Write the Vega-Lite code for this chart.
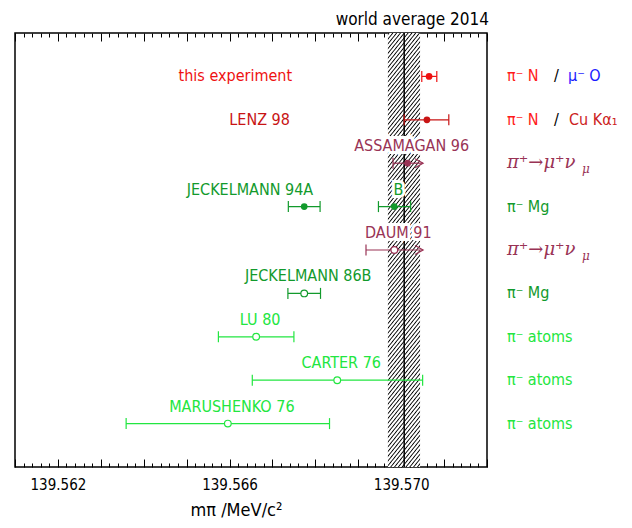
{
  "$schema": "https://vega.github.io/schema/vega-lite/v6.json",
  "width": 472,
  "height": 434,
  "autosize": {"type": "none"},
  "padding": {"left": 15, "top": 33, "right": 145, "bottom": 61},
  "title": {"text": "world average 2014", "frame": "group", "anchor": "end", "dx": 2, "offset": -10, "baseline": "alphabetic", "fontSize": 17, "fontWeight": "normal", "color": "#000"},
  "config": {
    "font": "DejaVu Sans Condensed, DejaVu Sans, sans-serif",
    "view": {"stroke": "#000", "strokeWidth": 1.5},
    "text": {"fontSize": 16}
  },
  "datasets": {
    "results": [
      {"name": "this experiment", "label": "this experiment", "target": "π⁻ N / μ⁻ O", "value": 139.57065, "lo": 139.57048, "hi": 139.57083, "marker": "filled", "kind": "bar"},
      {"name": "LENZ 98", "label": "LENZ 98", "target": "π⁻ N / Cu Kα₁", "value": 139.5706, "lo": 139.57007, "hi": 139.57111, "marker": "filled", "kind": "bar"},
      {"name": "ASSAMAGAN 96", "label": "ASSAMAGAN 96", "target": "π⁺→μ⁺νμ", "value": 139.57015, "lo": 139.56981, "hi": 139.57051, "marker": "filled", "kind": "limit"},
      {"name": "JECKELMANN 94", "label": "JECKELMANN 94A", "target": "π⁻ Mg", "value": 139.56774, "lo": 139.56737, "hi": 139.56811, "marker": "filled", "kind": "bar"},
      {"name": "JECKELMANN 94", "label": "B", "target": "π⁻ Mg", "value": 139.56984, "lo": 139.56947, "hi": 139.57022, "marker": "filled", "kind": "bar"},
      {"name": "DAUM 91", "label": "DAUM 91", "target": "π⁺→μ⁺νμ", "value": 139.56984, "lo": 139.56918, "hi": 139.57051, "marker": "open", "kind": "limit"},
      {"name": "JECKELMANN 86B", "label": "JECKELMANN 86B", "target": "π⁻ Mg", "value": 139.56774, "lo": 139.56736, "hi": 139.56812, "marker": "open", "kind": "bar"},
      {"name": "LU 80", "label": "LU 80", "target": "π⁻ atoms", "value": 139.56662, "lo": 139.56574, "hi": 139.5675, "marker": "open", "kind": "bar"},
      {"name": "CARTER 76", "label": "CARTER 76", "target": "π⁻ atoms", "value": 139.56851, "lo": 139.56653, "hi": 139.5705, "marker": "open", "kind": "bar"},
      {"name": "MARUSHENKO 76", "label": "MARUSHENKO 76", "target": "π⁻ atoms", "value": 139.56596, "lo": 139.56359, "hi": 139.56833, "marker": "open", "kind": "bar"}
    ],
    "average": [
      {"label": "world average 2014", "value": 139.57007, "lo": 139.56969, "hi": 139.57044}
    ]
  },
  "data": {"name": "results"},
  "layer": [
    {
      "data": {"name": "average"},
      "mark": {"type": "rect", "stroke": null, "fill": {"gradient": "linear", "x1": 0, "y1": 0, "x2": 0.0998, "y2": 1.083, "stops": [
        {"offset":0,"color":"#fff"},{"offset":0.003,"color":"#000"},{"offset":0.006,"color":"#fff"},
        {"offset":0.01,"color":"#fff"},{"offset":0.013,"color":"#000"},{"offset":0.016,"color":"#fff"},
        {"offset":0.02,"color":"#fff"},{"offset":0.023,"color":"#000"},{"offset":0.026,"color":"#fff"},
        {"offset":0.03,"color":"#fff"},{"offset":0.033,"color":"#000"},{"offset":0.036,"color":"#fff"},
        {"offset":0.04,"color":"#fff"},{"offset":0.043,"color":"#000"},{"offset":0.046,"color":"#fff"},
        {"offset":0.05,"color":"#fff"},{"offset":0.053,"color":"#000"},{"offset":0.056,"color":"#fff"},
        {"offset":0.06,"color":"#fff"},{"offset":0.063,"color":"#000"},{"offset":0.066,"color":"#fff"},
        {"offset":0.07,"color":"#fff"},{"offset":0.073,"color":"#000"},{"offset":0.076,"color":"#fff"},
        {"offset":0.08,"color":"#fff"},{"offset":0.083,"color":"#000"},{"offset":0.086,"color":"#fff"},
        {"offset":0.09,"color":"#fff"},{"offset":0.093,"color":"#000"},{"offset":0.096,"color":"#fff"},
        {"offset":0.1,"color":"#fff"},{"offset":0.103,"color":"#000"},{"offset":0.106,"color":"#fff"},
        {"offset":0.11,"color":"#fff"},{"offset":0.113,"color":"#000"},{"offset":0.116,"color":"#fff"},
        {"offset":0.12,"color":"#fff"},{"offset":0.123,"color":"#000"},{"offset":0.126,"color":"#fff"},
        {"offset":0.13,"color":"#fff"},{"offset":0.133,"color":"#000"},{"offset":0.136,"color":"#fff"},
        {"offset":0.14,"color":"#fff"},{"offset":0.143,"color":"#000"},{"offset":0.146,"color":"#fff"},
        {"offset":0.15,"color":"#fff"},{"offset":0.153,"color":"#000"},{"offset":0.156,"color":"#fff"},
        {"offset":0.16,"color":"#fff"},{"offset":0.163,"color":"#000"},{"offset":0.166,"color":"#fff"},
        {"offset":0.17,"color":"#fff"},{"offset":0.173,"color":"#000"},{"offset":0.176,"color":"#fff"},
        {"offset":0.18,"color":"#fff"},{"offset":0.183,"color":"#000"},{"offset":0.186,"color":"#fff"},
        {"offset":0.19,"color":"#fff"},{"offset":0.193,"color":"#000"},{"offset":0.196,"color":"#fff"},
        {"offset":0.2,"color":"#fff"},{"offset":0.203,"color":"#000"},{"offset":0.206,"color":"#fff"},
        {"offset":0.21,"color":"#fff"},{"offset":0.213,"color":"#000"},{"offset":0.216,"color":"#fff"},
        {"offset":0.22,"color":"#fff"},{"offset":0.223,"color":"#000"},{"offset":0.226,"color":"#fff"},
        {"offset":0.23,"color":"#fff"},{"offset":0.233,"color":"#000"},{"offset":0.236,"color":"#fff"},
        {"offset":0.24,"color":"#fff"},{"offset":0.243,"color":"#000"},{"offset":0.246,"color":"#fff"},
        {"offset":0.25,"color":"#fff"},{"offset":0.253,"color":"#000"},{"offset":0.256,"color":"#fff"},
        {"offset":0.26,"color":"#fff"},{"offset":0.263,"color":"#000"},{"offset":0.266,"color":"#fff"},
        {"offset":0.27,"color":"#fff"},{"offset":0.273,"color":"#000"},{"offset":0.276,"color":"#fff"},
        {"offset":0.28,"color":"#fff"},{"offset":0.283,"color":"#000"},{"offset":0.286,"color":"#fff"},
        {"offset":0.29,"color":"#fff"},{"offset":0.293,"color":"#000"},{"offset":0.296,"color":"#fff"},
        {"offset":0.3,"color":"#fff"},{"offset":0.303,"color":"#000"},{"offset":0.306,"color":"#fff"},
        {"offset":0.31,"color":"#fff"},{"offset":0.313,"color":"#000"},{"offset":0.316,"color":"#fff"},
        {"offset":0.32,"color":"#fff"},{"offset":0.323,"color":"#000"},{"offset":0.326,"color":"#fff"},
        {"offset":0.33,"color":"#fff"},{"offset":0.333,"color":"#000"},{"offset":0.336,"color":"#fff"},
        {"offset":0.34,"color":"#fff"},{"offset":0.343,"color":"#000"},{"offset":0.346,"color":"#fff"},
        {"offset":0.35,"color":"#fff"},{"offset":0.353,"color":"#000"},{"offset":0.356,"color":"#fff"},
        {"offset":0.36,"color":"#fff"},{"offset":0.363,"color":"#000"},{"offset":0.366,"color":"#fff"},
        {"offset":0.37,"color":"#fff"},{"offset":0.373,"color":"#000"},{"offset":0.376,"color":"#fff"},
        {"offset":0.38,"color":"#fff"},{"offset":0.383,"color":"#000"},{"offset":0.386,"color":"#fff"},
        {"offset":0.39,"color":"#fff"},{"offset":0.393,"color":"#000"},{"offset":0.396,"color":"#fff"},
        {"offset":0.4,"color":"#fff"},{"offset":0.403,"color":"#000"},{"offset":0.406,"color":"#fff"},
        {"offset":0.41,"color":"#fff"},{"offset":0.413,"color":"#000"},{"offset":0.416,"color":"#fff"},
        {"offset":0.42,"color":"#fff"},{"offset":0.423,"color":"#000"},{"offset":0.426,"color":"#fff"},
        {"offset":0.43,"color":"#fff"},{"offset":0.433,"color":"#000"},{"offset":0.436,"color":"#fff"},
        {"offset":0.44,"color":"#fff"},{"offset":0.443,"color":"#000"},{"offset":0.446,"color":"#fff"},
        {"offset":0.45,"color":"#fff"},{"offset":0.453,"color":"#000"},{"offset":0.456,"color":"#fff"},
        {"offset":0.46,"color":"#fff"},{"offset":0.463,"color":"#000"},{"offset":0.466,"color":"#fff"},
        {"offset":0.47,"color":"#fff"},{"offset":0.473,"color":"#000"},{"offset":0.476,"color":"#fff"},
        {"offset":0.48,"color":"#fff"},{"offset":0.483,"color":"#000"},{"offset":0.486,"color":"#fff"},
        {"offset":0.49,"color":"#fff"},{"offset":0.493,"color":"#000"},{"offset":0.496,"color":"#fff"},
        {"offset":0.5,"color":"#fff"},{"offset":0.503,"color":"#000"},{"offset":0.506,"color":"#fff"},
        {"offset":0.51,"color":"#fff"},{"offset":0.513,"color":"#000"},{"offset":0.516,"color":"#fff"},
        {"offset":0.52,"color":"#fff"},{"offset":0.523,"color":"#000"},{"offset":0.526,"color":"#fff"},
        {"offset":0.53,"color":"#fff"},{"offset":0.533,"color":"#000"},{"offset":0.536,"color":"#fff"},
        {"offset":0.54,"color":"#fff"},{"offset":0.543,"color":"#000"},{"offset":0.546,"color":"#fff"},
        {"offset":0.55,"color":"#fff"},{"offset":0.553,"color":"#000"},{"offset":0.556,"color":"#fff"},
        {"offset":0.56,"color":"#fff"},{"offset":0.563,"color":"#000"},{"offset":0.566,"color":"#fff"},
        {"offset":0.57,"color":"#fff"},{"offset":0.573,"color":"#000"},{"offset":0.576,"color":"#fff"},
        {"offset":0.58,"color":"#fff"},{"offset":0.583,"color":"#000"},{"offset":0.586,"color":"#fff"},
        {"offset":0.59,"color":"#fff"},{"offset":0.593,"color":"#000"},{"offset":0.596,"color":"#fff"},
        {"offset":0.6,"color":"#fff"},{"offset":0.603,"color":"#000"},{"offset":0.606,"color":"#fff"},
        {"offset":0.61,"color":"#fff"},{"offset":0.613,"color":"#000"},{"offset":0.616,"color":"#fff"},
        {"offset":0.62,"color":"#fff"},{"offset":0.623,"color":"#000"},{"offset":0.626,"color":"#fff"},
        {"offset":0.63,"color":"#fff"},{"offset":0.633,"color":"#000"},{"offset":0.636,"color":"#fff"},
        {"offset":0.64,"color":"#fff"},{"offset":0.643,"color":"#000"},{"offset":0.646,"color":"#fff"},
        {"offset":0.65,"color":"#fff"},{"offset":0.653,"color":"#000"},{"offset":0.656,"color":"#fff"},
        {"offset":0.66,"color":"#fff"},{"offset":0.663,"color":"#000"},{"offset":0.666,"color":"#fff"},
        {"offset":0.67,"color":"#fff"},{"offset":0.673,"color":"#000"},{"offset":0.676,"color":"#fff"},
        {"offset":0.68,"color":"#fff"},{"offset":0.683,"color":"#000"},{"offset":0.686,"color":"#fff"},
        {"offset":0.69,"color":"#fff"},{"offset":0.693,"color":"#000"},{"offset":0.696,"color":"#fff"},
        {"offset":0.7,"color":"#fff"},{"offset":0.703,"color":"#000"},{"offset":0.706,"color":"#fff"},
        {"offset":0.71,"color":"#fff"},{"offset":0.713,"color":"#000"},{"offset":0.716,"color":"#fff"},
        {"offset":0.72,"color":"#fff"},{"offset":0.723,"color":"#000"},{"offset":0.726,"color":"#fff"},
        {"offset":0.73,"color":"#fff"},{"offset":0.733,"color":"#000"},{"offset":0.736,"color":"#fff"},
        {"offset":0.74,"color":"#fff"},{"offset":0.743,"color":"#000"},{"offset":0.746,"color":"#fff"},
        {"offset":0.75,"color":"#fff"},{"offset":0.753,"color":"#000"},{"offset":0.756,"color":"#fff"},
        {"offset":0.76,"color":"#fff"},{"offset":0.763,"color":"#000"},{"offset":0.766,"color":"#fff"},
        {"offset":0.77,"color":"#fff"},{"offset":0.773,"color":"#000"},{"offset":0.776,"color":"#fff"},
        {"offset":0.78,"color":"#fff"},{"offset":0.783,"color":"#000"},{"offset":0.786,"color":"#fff"},
        {"offset":0.79,"color":"#fff"},{"offset":0.793,"color":"#000"},{"offset":0.796,"color":"#fff"},
        {"offset":0.8,"color":"#fff"},{"offset":0.803,"color":"#000"},{"offset":0.806,"color":"#fff"},
        {"offset":0.81,"color":"#fff"},{"offset":0.813,"color":"#000"},{"offset":0.816,"color":"#fff"},
        {"offset":0.82,"color":"#fff"},{"offset":0.823,"color":"#000"},{"offset":0.826,"color":"#fff"},
        {"offset":0.83,"color":"#fff"},{"offset":0.833,"color":"#000"},{"offset":0.836,"color":"#fff"},
        {"offset":0.84,"color":"#fff"},{"offset":0.843,"color":"#000"},{"offset":0.846,"color":"#fff"},
        {"offset":0.85,"color":"#fff"},{"offset":0.853,"color":"#000"},{"offset":0.856,"color":"#fff"},
        {"offset":0.86,"color":"#fff"},{"offset":0.863,"color":"#000"},{"offset":0.866,"color":"#fff"},
        {"offset":0.87,"color":"#fff"},{"offset":0.873,"color":"#000"},{"offset":0.876,"color":"#fff"},
        {"offset":0.88,"color":"#fff"},{"offset":0.883,"color":"#000"},{"offset":0.886,"color":"#fff"},
        {"offset":0.89,"color":"#fff"},{"offset":0.893,"color":"#000"},{"offset":0.896,"color":"#fff"},
        {"offset":0.9,"color":"#fff"},{"offset":0.903,"color":"#000"},{"offset":0.906,"color":"#fff"},
        {"offset":0.91,"color":"#fff"},{"offset":0.913,"color":"#000"},{"offset":0.916,"color":"#fff"},
        {"offset":0.92,"color":"#fff"},{"offset":0.923,"color":"#000"},{"offset":0.926,"color":"#fff"},
        {"offset":0.93,"color":"#fff"},{"offset":0.933,"color":"#000"},{"offset":0.936,"color":"#fff"},
        {"offset":0.94,"color":"#fff"},{"offset":0.943,"color":"#000"},{"offset":0.946,"color":"#fff"},
        {"offset":0.95,"color":"#fff"},{"offset":0.953,"color":"#000"},{"offset":0.956,"color":"#fff"},
        {"offset":0.96,"color":"#fff"},{"offset":0.963,"color":"#000"},{"offset":0.966,"color":"#fff"},
        {"offset":0.97,"color":"#fff"},{"offset":0.973,"color":"#000"},{"offset":0.976,"color":"#fff"},
        {"offset":0.98,"color":"#fff"},{"offset":0.983,"color":"#000"},{"offset":0.986,"color":"#fff"},
        {"offset":0.99,"color":"#fff"},{"offset":0.993,"color":"#000"},{"offset":0.996,"color":"#fff"},
        {"offset":1,"color":"#fff"}
      ]}},
      "encoding": {
        "x": {"field": "lo", "type": "quantitative",
          "scale": {"domain": [139.561, 139.572], "nice": false, "zero": false},
          "axis": {"orient": "top", "title": null, "labels": false, "domain": false, "grid": false, "tickCount": 55, "tickSize": 8, "tickColor": "#000", "tickWidth": 1,
            "encoding": {"ticks": {"y2": {"condition": {"test": "round(datum.value*5000) % 5 === 0", "value": 8}, "value": 4}}}}},
        "x2": {"field": "hi"}
      }
    },
    {
      "data": {"name": "average"},
      "mark": {"type": "rule", "color": "#000", "strokeWidth": 1.5},
      "encoding": {
        "x": {"field": "value", "type": "quantitative",
          "scale": {"domain": [139.561, 139.572], "nice": false, "zero": false},
          "axis": {"orient": "bottom", "title": "mπ /MeV/c²", "domain": false, "grid": false, "tickCount": 55, "tickSize": 8, "tickColor": "#000", "tickWidth": 1,
            "labelExpr": "(round(datum.value*1000) % 4 === 2 && abs(datum.value*1000 - round(datum.value*1000)) < 0.05) ? format(datum.value, '.3f') : ''",
            "labelOverlap": false, "labelFlush": false, "labelBound": false, "labelFontSize": 15, "labelColor": "#000", "labelPadding": 2,
            "titleFontSize": 18, "titleFontWeight": "normal", "titleColor": "#000", "titleX": 221, "titleY": 48, "titleAlign": "center", "titleBaseline": "alphabetic",
            "encoding": {"ticks": {"y2": {"condition": {"test": "round(datum.value*5000) % 5 === 0", "value": -8}, "value": -4}}}}}
      }
    },
    {
      "transform": [{"filter": "datum.name !== 'this experiment' && datum.name !== 'LENZ 98' && datum.label !== 'JECKELMANN 94A'"}],
      "mark": {"type": "text", "align": "center", "baseline": "middle", "dx": 4, "dy": -17, "fill": "#fff", "stroke": "#fff", "strokeWidth": 6},
      "encoding": {
        "y": {"field": "name", "type": "nominal", "sort": null, "axis": null},
        "x": {"field": "value", "type": "quantitative", "axis": null},
        "text": {"field": "label"}
      }
    },
    {
      "mark": {"type": "rule", "strokeWidth": 1.2},
      "encoding": {
        "y": {"field": "name", "type": "nominal", "sort": null, "axis": null,
          "scale": {"type": "point", "padding": 1, "domain": ["this experiment", "LENZ 98", "ASSAMAGAN 96", "JECKELMANN 94", "DAUM 91", "JECKELMANN 86B", "LU 80", "CARTER 76", "MARUSHENKO 76"]}},
        "x": {"field": "lo", "type": "quantitative", "axis": null},
        "x2": {"field": "hi"},
        "color": {"field": "target", "type": "nominal", "legend": null,
          "scale": {"domain": ["π⁻ N / μ⁻ O", "π⁻ N / Cu Kα₁", "π⁺→μ⁺νμ", "π⁻ Mg", "π⁻ atoms"], "range": ["#ee1111", "#c81414", "#993355", "#129a2c", "#22e640"]}}
      }
    },
    {
      "mark": {"type": "tick", "orient": "vertical", "size": 11, "thickness": 1.2, "opacity": 1},
      "encoding": {
        "y": {"field": "name", "type": "nominal", "sort": null, "axis": null},
        "x": {"field": "lo", "type": "quantitative", "axis": null},
        "color": {"field": "target", "type": "nominal", "legend": null}
      }
    },
    {
      "transform": [{"filter": "datum.kind === 'bar'"}],
      "mark": {"type": "tick", "orient": "vertical", "size": 11, "thickness": 1.2, "opacity": 1},
      "encoding": {
        "y": {"field": "name", "type": "nominal", "sort": null, "axis": null},
        "x": {"field": "hi", "type": "quantitative", "axis": null},
        "color": {"field": "target", "type": "nominal", "legend": null}
      }
    },
    {
      "transform": [{"filter": "datum.kind === 'limit'"}],
      "mark": {"type": "point", "shape": "M-1.6,-0.9L0,0L-1.6,0.9", "size": 100, "filled": false, "strokeWidth": 1.2, "opacity": 1},
      "encoding": {
        "y": {"field": "name", "type": "nominal", "sort": null, "axis": null},
        "x": {"field": "hi", "type": "quantitative", "axis": null},
        "color": {"field": "target", "type": "nominal", "legend": null}
      }
    },
    {
      "transform": [{"filter": "datum.marker === 'filled'"}],
      "mark": {"type": "point", "shape": "circle", "size": 45, "filled": true, "opacity": 1},
      "encoding": {
        "y": {"field": "name", "type": "nominal", "sort": null, "axis": null},
        "x": {"field": "value", "type": "quantitative", "axis": null},
        "color": {"field": "target", "type": "nominal", "legend": null}
      }
    },
    {
      "transform": [{"filter": "datum.marker === 'open'"}],
      "mark": {"type": "point", "shape": "circle", "size": 45, "filled": false, "fill": "#fff", "fillOpacity": 1, "strokeWidth": 1.2, "opacity": 1},
      "encoding": {
        "y": {"field": "name", "type": "nominal", "sort": null, "axis": null},
        "x": {"field": "value", "type": "quantitative", "axis": null},
        "color": {"field": "target", "type": "nominal", "legend": null}
      }
    },
    {
      "transform": [{"filter": "datum.name === 'this experiment' || datum.name === 'LENZ 98'"}],
      "mark": {"type": "text", "align": "right", "baseline": "middle", "dx": -137},
      "encoding": {
        "y": {"field": "name", "type": "nominal", "sort": null, "axis": null},
        "x": {"field": "value", "type": "quantitative", "axis": null},
        "text": {"field": "label"},
        "color": {"field": "target", "type": "nominal", "legend": null}
      }
    },
    {
      "transform": [{"filter": "datum.label === 'JECKELMANN 94A'"}],
      "mark": {"type": "text", "align": "right", "baseline": "middle", "dx": 9, "dy": -17},
      "encoding": {
        "y": {"field": "name", "type": "nominal", "sort": null, "axis": null},
        "x": {"field": "value", "type": "quantitative", "axis": null},
        "text": {"field": "label"},
        "color": {"field": "target", "type": "nominal", "legend": null}
      }
    },
    {
      "transform": [{"filter": "datum.name !== 'this experiment' && datum.name !== 'LENZ 98' && datum.label !== 'JECKELMANN 94A'"}],
      "mark": {"type": "text", "align": "center", "baseline": "middle", "dx": 4, "dy": -17},
      "encoding": {
        "y": {"field": "name", "type": "nominal", "sort": null, "axis": null},
        "x": {"field": "value", "type": "quantitative", "axis": null},
        "text": {"field": "label"},
        "color": {"field": "target", "type": "nominal", "legend": null}
      }
    },
    {
      "transform": [{"filter": "datum.name === 'this experiment' || datum.name === 'LENZ 98'"}],
      "mark": {"type": "text", "align": "left", "baseline": "middle", "text": "π⁻ N", "color": "#ff1a1a"},
      "encoding": {
        "y": {"field": "name", "type": "nominal", "sort": null, "axis": null},
        "x": {"datum": 139.572466, "type": "quantitative", "axis": null}
      }
    },
    {
      "transform": [{"filter": "datum.name === 'this experiment' || datum.name === 'LENZ 98'"}],
      "mark": {"type": "text", "align": "left", "baseline": "middle", "text": "/", "color": "#000", "dx": 47},
      "encoding": {
        "y": {"field": "name", "type": "nominal", "sort": null, "axis": null},
        "x": {"datum": 139.572466, "type": "quantitative", "axis": null}
      }
    },
    {
      "transform": [{"filter": "datum.name === 'this experiment'"}],
      "mark": {"type": "text", "align": "left", "baseline": "middle", "text": "μ⁻ O", "color": "#1a1aff", "dx": 61},
      "encoding": {
        "y": {"field": "name", "type": "nominal", "sort": null, "axis": null},
        "x": {"datum": 139.572466, "type": "quantitative", "axis": null}
      }
    },
    {
      "transform": [{"filter": "datum.name === 'LENZ 98'"}],
      "mark": {"type": "text", "align": "left", "baseline": "middle", "text": "Cu Kα₁", "color": "#cc2222", "dx": 62},
      "encoding": {
        "y": {"field": "name", "type": "nominal", "sort": null, "axis": null},
        "x": {"datum": 139.572466, "type": "quantitative", "axis": null}
      }
    },
    {
      "transform": [{"filter": "datum.kind === 'limit'"}],
      "mark": {"type": "text", "align": "left", "baseline": "middle", "text": "π⁺→μ⁺ν", "font": "DejaVu Serif", "fontStyle": "italic", "fontSize": 18, "color": "#993355"},
      "encoding": {
        "y": {"field": "name", "type": "nominal", "sort": null, "axis": null},
        "x": {"datum": 139.572466, "type": "quantitative", "axis": null}
      }
    },
    {
      "transform": [{"filter": "datum.kind === 'limit'"}],
      "mark": {"type": "text", "align": "left", "baseline": "middle", "text": "μ", "font": "DejaVu Serif", "fontStyle": "italic", "fontSize": 12, "color": "#993355", "dx": 75, "dy": 6},
      "encoding": {
        "y": {"field": "name", "type": "nominal", "sort": null, "axis": null},
        "x": {"datum": 139.572466, "type": "quantitative", "axis": null}
      }
    },
    {
      "transform": [{"filter": "datum.target === 'π⁻ Mg' && datum.label !== 'B'"}],
      "mark": {"type": "text", "align": "left", "baseline": "middle", "text": "π⁻ Mg", "color": "#129a2c"},
      "encoding": {
        "y": {"field": "name", "type": "nominal", "sort": null, "axis": null},
        "x": {"datum": 139.572466, "type": "quantitative", "axis": null}
      }
    },
    {
      "transform": [{"filter": "datum.target === 'π⁻ atoms'"}],
      "mark": {"type": "text", "align": "left", "baseline": "middle", "text": "π⁻ atoms", "color": "#22e640"},
      "encoding": {
        "y": {"field": "name", "type": "nominal", "sort": null, "axis": null},
        "x": {"datum": 139.572466, "type": "quantitative", "axis": null}
      }
    }
  ]
}
